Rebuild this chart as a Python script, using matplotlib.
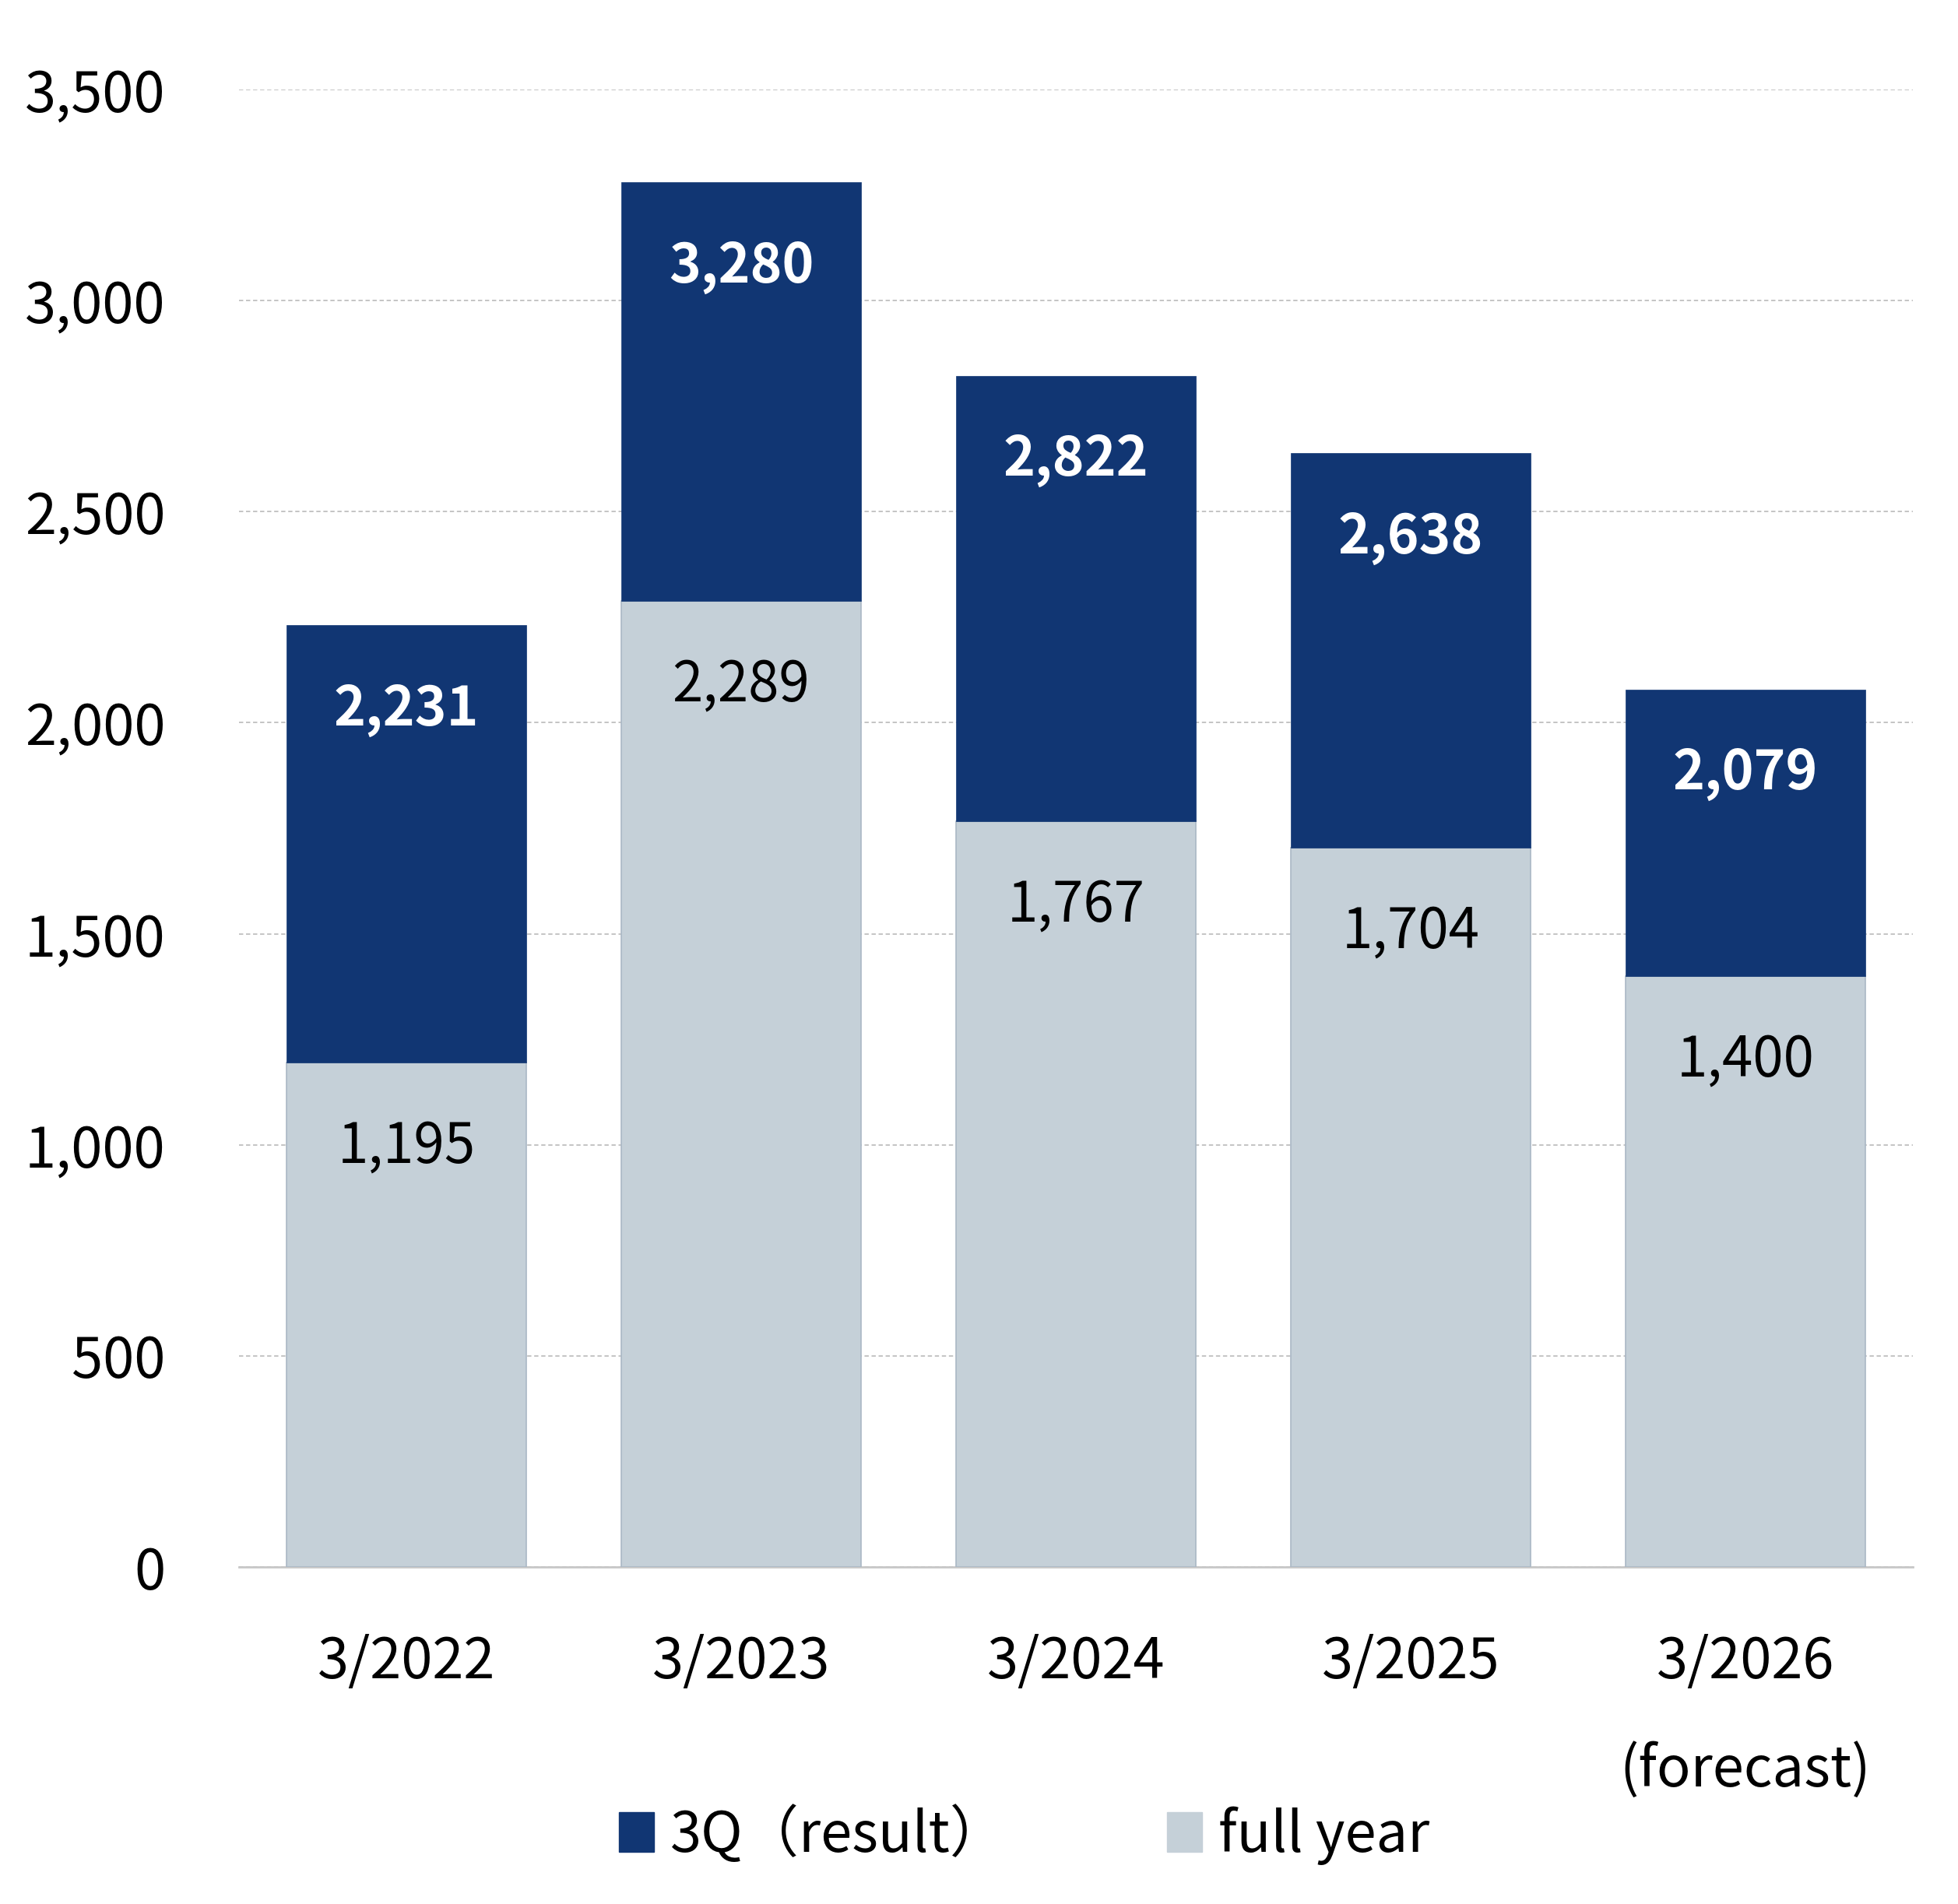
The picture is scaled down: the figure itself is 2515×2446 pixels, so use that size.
import matplotlib
matplotlib.use("Agg")
import matplotlib.pyplot as plt
from matplotlib.patches import Patch

plt.rcParams['font.family'] = ['Noto Sans CJK JP', 'DejaVu Sans']

# data
periods = ["3/2022", "3/2023", "3/2024", "3/2025", "3/2026\n(forecast)"]
result_3q = [2231, 3280, 2822, 2638, 2079]
full_year = [1195, 2289, 1767, 1704, 1400]
y_ticks = [0, 500, 1000, 1500, 2000, 2500, 3000, 3500]

dark = "#113673"
light = "#C5D0D8"

fig = plt.figure(figsize=(25.15, 24.46), dpi=100)
ax = fig.add_axes([0.122, 0.177, 0.855, 0.776])

x = list(range(len(periods)))
diff = [a - b for a, b in zip(result_3q, full_year)]

ax.bar(x, full_year, width=0.715, color=light, edgecolor="#AAB7C5", linewidth=1.2, zorder=3)
ax.bar(x, diff, bottom=full_year, width=0.715, color=dark, edgecolor=dark, linewidth=0.5, zorder=3)

# value labels
for xi, top, fy in zip(x, result_3q, full_year):
    ax.annotate(f"{top:,}", (xi, top), xytext=(0, -78), textcoords="offset points",
                ha="center", va="center", fontsize=50, fontweight="bold", color="white", zorder=5)
    ax.annotate(f"{fy:,}", (xi, fy), xytext=(0, -78), textcoords="offset points",
                ha="center", va="center", fontsize=51, color="black", zorder=5)

ax.set_xlim(-0.5, 4.5)
ax.set_ylim(0, 3500)
ax.set_yticks(y_ticks)
ax.set_yticklabels([f"{v:,}" for v in y_ticks])
ax.set_xticks(x)
ax.set_xticklabels(periods, linespacing=2.15)
ax.tick_params(axis="y", length=0, pad=68, labelsize=52)
ax.tick_params(axis="x", length=0, pad=62, labelsize=52)
for lab in ax.get_xticklabels():
    lab.set_verticalalignment("top")

ax.yaxis.grid(True, linestyle=(0, (3, 2)), color="#BFBFBF", linewidth=1.3)
ax.set_axisbelow(True)
for s in ["top", "right", "left"]:
    ax.spines[s].set_visible(False)
ax.spines["bottom"].set_color("#C8C8C8")
ax.spines["bottom"].set_linewidth(2)

handles = [Patch(facecolor=dark, edgecolor=dark), Patch(facecolor=light, edgecolor=light)]
fig.legend(handles, ["3Q（result）", "full year"], loc="center left",
           bbox_to_anchor=(0.316, 0.036), ncol=2, frameon=False, fontsize=52,
           handlelength=0.62, handleheight=0.7, handletextpad=0.3,
           columnspacing=2.85, borderpad=0, borderaxespad=0)

fig.savefig("out.png", dpi=100)
